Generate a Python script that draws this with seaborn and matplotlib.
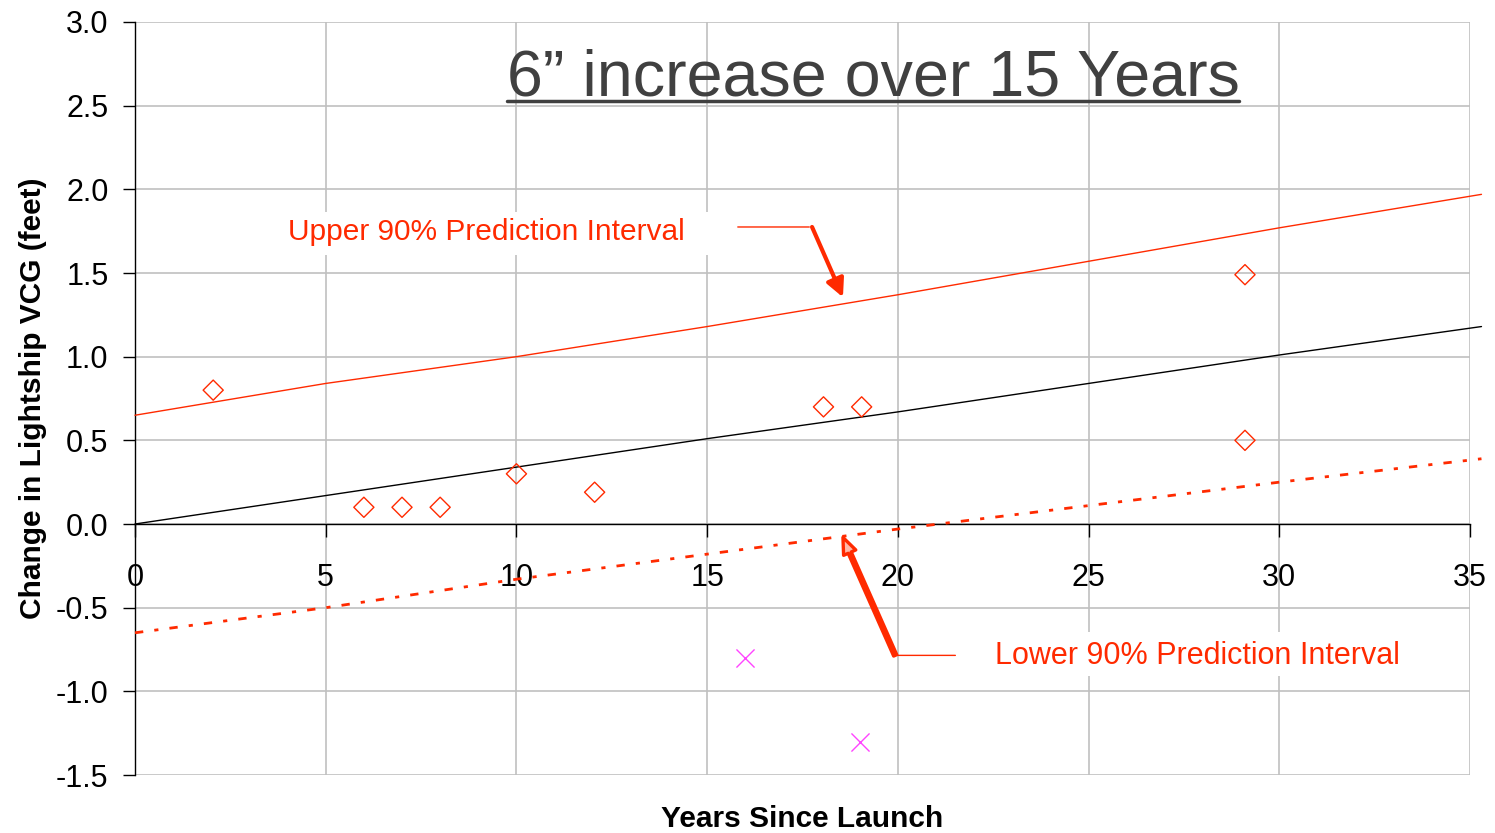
import matplotlib
matplotlib.use("Agg")
import matplotlib.pyplot as plt
from matplotlib.patches import Rectangle
import seaborn as sns

# Data
years = [0, 5, 10, 15, 20, 25, 30, 35.3]
upper_pi = [0.65, 0.84, 1.00, 1.18, 1.37, 1.57, 1.77, 1.97]
fit_line = [0.0, 0.17, 0.34, 0.51, 0.67, 0.84, 1.01, 1.18]
lower_pi = [-0.65, -0.50, -0.33, -0.18, -0.03, 0.11, 0.25, 0.39]

obs_years = [2.05, 6.0, 7.0, 8.0, 10.0, 12.05, 18.05, 19.05, 29.1, 29.1]
obs_vcg = [0.80, 0.10, 0.10, 0.10, 0.30, 0.19, 0.70, 0.70, 1.49, 0.50]

outlier_years = [16.0, 19.0]
outlier_vcg = [-0.80, -1.30]

x_ticks = [0, 5, 10, 15, 20, 25, 30, 35]
y_ticks = [-1.5, -1.0, -0.5, 0.0, 0.5, 1.0, 1.5, 2.0, 2.5, 3.0]

RED = "#ff2a00"
GRID = "#c0c0c0"

sns.set_theme(style="white")
plt.rcParams['font.family'] = ['Liberation Sans', 'DejaVu Sans']

fig = plt.figure(figsize=(14.95, 8.33), dpi=100)
ax = fig.add_axes([0.0903, 0.0696, 0.8930, 0.9040])

# lines
sns.lineplot(x=years, y=upper_pi, color=RED, lw=1.0, ax=ax, clip_on=False, zorder=3)
sns.lineplot(x=years, y=fit_line, color="black", lw=1.0, ax=ax, clip_on=False, zorder=3)
sns.lineplot(x=years, y=lower_pi, color=RED, lw=2.0, ax=ax, clip_on=False, zorder=3,
             linestyle=(0, (3, 4, 1.5, 4)))

# observations
sns.scatterplot(x=obs_years, y=obs_vcg, marker="D", s=105, facecolor="none",
                edgecolor=RED, linewidth=1.0, ax=ax, zorder=4)
sns.scatterplot(x=outlier_years, y=outlier_vcg, marker="x", s=170, color="#ff44ff",
                linewidth=1.0, ax=ax, zorder=4)

ax.set_xlim(0, 35)
ax.set_ylim(-1.5, 3.0)
ax.set_xticks(x_ticks)
ax.set_yticks(y_ticks)
ax.set_xticklabels([str(t) for t in x_ticks])
ax.set_yticklabels([f"{t:.1f}" for t in y_ticks])

# grid and spines
ax.grid(True, color=GRID, lw=1.2)
ax.set_axisbelow(True)
ax.spines['top'].set_visible(False)
ax.spines['right'].set_visible(False)
ax.spines['left'].set_color("black")
ax.spines['left'].set_linewidth(1.0)
ax.spines['bottom'].set_position(('data', 0))
ax.spines['bottom'].set_color("black")
ax.spines['bottom'].set_linewidth(1.0)
ax.tick_params(axis='both', which='both', direction='out', length=9, width=1.0,
               color="black", labelsize=22, labelcolor="black",
               bottom=True, left=True)
ax.tick_params(axis='x', pad=19)
ax.tick_params(axis='y', pad=10)

ax.set_xlabel("Years Since Launch", fontsize=21.5, fontweight="bold", color="black")
ax.set_ylabel("Change in Lightship VCG (feet)", fontsize=21.5, fontweight="bold", color="black")
ax.xaxis.set_label_coords(0.5, -0.04)
ax.yaxis.set_label_coords(-0.066, 0.5)

# title (underlined)
ax.text(0.5528, 0.903, "6\u201d increase over 15 Years", transform=ax.transAxes,
        ha="center", va="baseline", fontsize=46.5, color="#404040", zorder=5)
fig.canvas.draw()
title = ax.texts[-1]
bb = title.get_window_extent().transformed(ax.transAxes.inverted())
ax.plot([bb.x0, bb.x1], [0.895, 0.895], transform=ax.transAxes,
        color="#404040", lw=2.5, clip_on=False, zorder=5)

# annotations (white boxes hide the grid behind the labels)
ax.add_patch(Rectangle((3.41, 1.608), 11.93, 0.257, facecolor="white",
                       edgecolor="none", zorder=2))
ax.text(9.2, 1.745, "Upper 90% Prediction Interval", ha="center", va="center",
        fontsize=21.5, color=RED, zorder=5)
ax.annotate("", xy=(17.75, 1.775), xytext=(15.73, 1.775),
            arrowprops=dict(arrowstyle="-", color=RED, lw=1.0))
ax.annotate("", xy=(18.56, 1.355), xytext=(17.75, 1.775),
            arrowprops=dict(arrowstyle="-|>,head_length=0.9,head_width=0.45",
                            color=RED, lw=3.0, shrinkA=0, shrinkB=0))

ax.add_patch(Rectangle((21.63, -0.909), 12.06, 0.263, facecolor="white",
                       edgecolor="none", zorder=2))
ax.text(27.86, -0.79, "Lower 90% Prediction Interval", ha="center", va="center",
        fontsize=22, color=RED, zorder=5)
ax.annotate("", xy=(19.93, -0.785), xytext=(21.58, -0.785),
            arrowprops=dict(arrowstyle="-", color=RED, lw=1.0))
ax.annotate("", xy=(18.56, -0.08), xytext=(19.93, -0.785),
            arrowprops=dict(arrowstyle="simple,head_length=1.0,head_width=0.8,tail_width=0.2",
                            fc="#ffb8a8", ec=RED, lw=2.4, shrinkA=0, shrinkB=0))

fig.savefig("out.png", dpi=100)
